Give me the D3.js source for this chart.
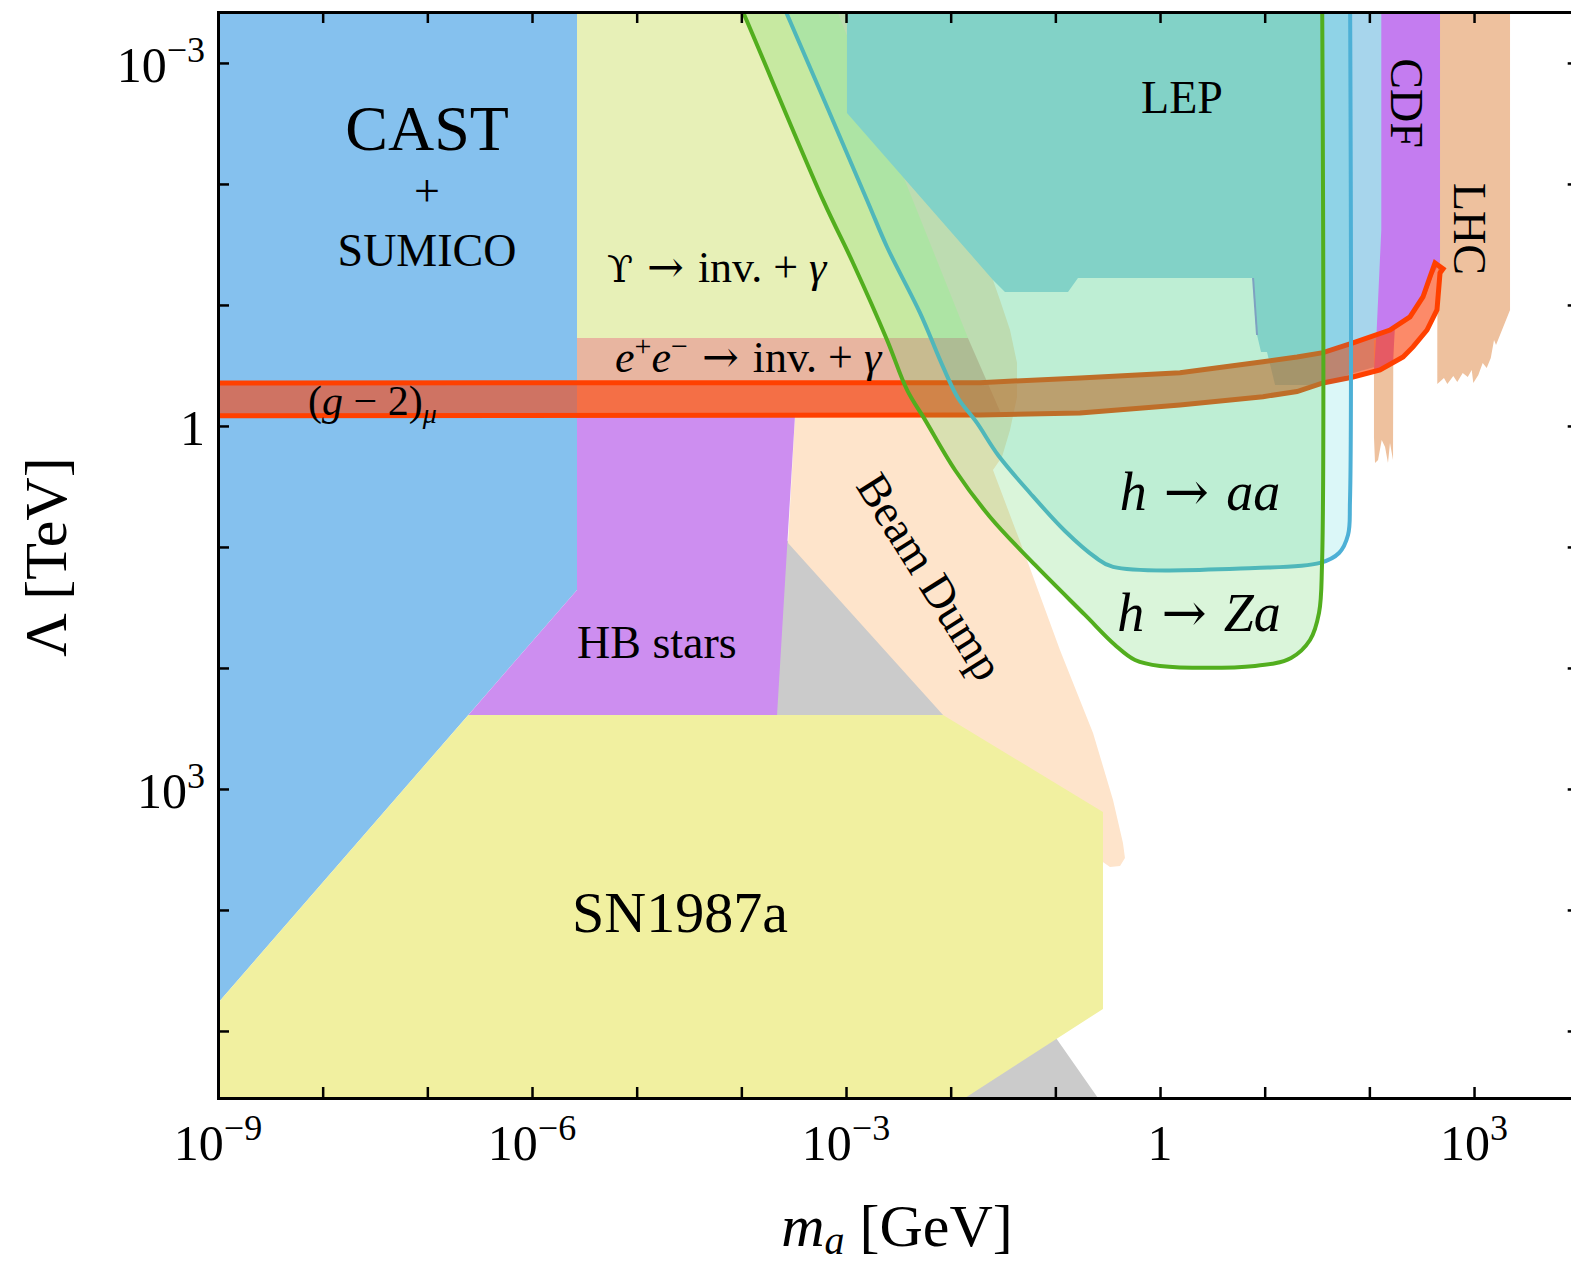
<!DOCTYPE html>
<html>
<head>
<meta charset="utf-8">
<script src="https://cdn.jsdelivr.net/npm/d3@7/dist/d3.min.js"></script>
<style>
html,body{margin:0;padding:0;background:#fff;}
svg{display:block;}
text{font-family:"Liberation Serif","Times New Roman",Times,serif;fill:#000;white-space:pre;}
</style>
</head>
<body>
<svg id="chart" width="1571" height="1266"></svg>
<script>
// ---------- data: points are [log10(m_a / GeV), log10(Lambda / TeV)] ----------
const castSumico = [[-9.3,-3.7],[-5.570,-3.7],[-5.570,1.355],[-9,4.769],[-9.3,4.769]];
const upsilonInv = [[-5.570,-3.7],[-3.21,-3.7],[-1.835,-0.727],[-5.570,-0.727]];
const eeInv = [[-5.570,-0.727],[-1.835,-0.727],[-1.513,-0.09],[-5.570,-0.09]];
const hbStars = [[-5.570,-0.09],[-3.487,-0.09],[-3.659,2.388],[-6.608,2.388],[-5.570,1.355]];
const sn1987a = [[-6.608,2.388],[-2.073,2.388],[-0.545,3.190],[-0.545,4.818],[-2.125,5.7],[-9.3,5.7],[-9.3,4.769],[-9,4.769]];
const grayRegion = [[-3.58,0.93],[-2.007,2.388],[-1.147,4.868],[-0.593,5.554],[-0.5,5.7],[-3.82,5.7],[-3.82,2.26]];
const beamDump = [[-3.296,-3.7],[-2.484,-3.7],[-1.672,-1.455],[-1.596,-1.207],[-1.529,-1.041],[-1.433,-0.793],
  [-1.366,-0.521],[-1.366,-0.240],[-1.433,0.033],[-1.510,0.256],[-1.596,0.364],[-1.271,1.107],[-0.956,1.851],
  [-0.640,2.537],[-0.449,3.091],[-0.354,3.446],[-0.335,3.570],[-0.382,3.636],[-0.478,3.645],[-0.573,3.587],
  [-0.621,3.752],[-2.198,2.760],[-2.073,2.388],[-3.554,0.967],[-3.487,-0.09],[-3.392,-1.041]];
const lep = [[-2.991,-3.7],[-2.991,-2.587],[-1.596,-1.207],[-1.481,-1.107],[-0.879,-1.107],[-0.784,-1.223],
  [0.889,-1.223],[0.927,-0.752],[0.965,-0.612],[1.022,-0.612],[1.099,-0.339],[1.548,-0.339],[1.815,-0.43],
  [2.083,-0.496],[2.140,-0.711],[2.140,-3.7]];
const lepEdge = [[0.889,-1.223],[0.927,-0.752]];
const lhcMain = [[2.656,-3.7],[3.344,-3.7],[3.344,-0.959],[3.210,-0.669],[3.191,-0.711],[3.160,-0.562],
  [3.121,-0.479],[3.083,-0.521],[3.041,-0.421],[2.993,-0.355],[2.978,-0.463],[2.940,-0.405],[2.892,-0.438],
  [2.840,-0.364],[2.802,-0.413],[2.745,-0.347],[2.713,-0.397],[2.649,-0.347],[2.649,-0.793],[2.656,-1.355]];
const lhcStrip = [[2.044,-0.711],[2.229,-0.711],[2.226,0.281],[2.197,0.140],[2.178,0.306],[2.150,0.174],
  [2.118,0.116],[2.083,0.281],[2.054,0.306],[2.044,0.091]];
const cdf = [[2.114,-3.7],[2.675,-3.7],[2.675,-1.355],[2.608,-1.248],[2.541,-1.083],[2.407,-0.926],
  [2.245,-0.826],[2.226,-0.529],[2.044,-0.455],[2.070,-0.793],[2.114,-1.620]];
const gm2Upper = [[-9.3,-0.355],[-1.720,-0.358],[-0.765,-0.397],[0.191,-0.440],[0.984,-0.531],[1.309,-0.570],
  [1.557,-0.606],[1.844,-0.686],[2.197,-0.793],[2.388,-0.901],[2.512,-1.066],[2.579,-1.231],[2.627,-1.347]];
const gm2Lower = [[-9.3,-0.083],[-1.720,-0.091],[-0.765,-0.107],[0.191,-0.174],[0.984,-0.242],[1.309,-0.284],
  [1.557,-0.355],[1.844,-0.405],[2.102,-0.463],[2.322,-0.570],[2.417,-0.653],[2.551,-0.793],[2.646,-0.959],
  [2.675,-1.264],[2.704,-1.298]];
const hToZa = [[-4.128,-3.7],[-3.984,-3.421],[-3.220,-1.868],[-2.933,-1.347],[-2.608,-0.711],[-2.417,-0.298],
  [-2.245,-0.050],[-1.959,0.364],[-1.624,0.752],[-1.194,1.149],[-0.717,1.562],[-0.430,1.810],[-0.239,1.934],
  [0,1.983],[0.908,1.983],[1.252,1.917],[1.433,1.769],[1.519,1.545],[1.548,1.132],[1.548,-3.7]];
const hToAa = [[-3.717,-3.7],[-3.573,-3.421],[-2.800,-1.868],[-2.608,-1.479],[-2.293,-0.934],[-2.073,-0.488],
  [-1.930,-0.231],[-1.749,-0.025],[-1.548,0.240],[-1.242,0.554],[-0.908,0.868],[-0.621,1.083],[-0.449,1.165],
  [0.908,1.174],[1.529,1.132],[1.710,1.050],[1.796,0.901],[1.815,0.612],[1.815,-3.7]];
const xTickExps = [-9,-8,-7,-6,-5,-4,-3,-2,-1,0,1,2,3,4];
const yTickExps = [-3,-2,-1,0,1,2,3,4,5];
const xLabelExps = [-9,-6,-3,0,3];
const yLabelExps = [-3,0,3];

// ---------- scales ----------
const svg = d3.select("#chart");
const x = d3.scaleLog().domain([1e-9, 1e4]).range([218, 1578.7]);
const y = d3.scaleLog().domain([Math.pow(10,-3.421), Math.pow(10,5.554)]).range([12, 1098]);
const px = d => x(Math.pow(10, d[0]));
const py = d => y(Math.pow(10, d[1]));
const poly = d3.line().x(px).y(py);
const smooth = d3.line().x(px).y(py).curve(d3.curveCatmullRom.alpha(0.5));

svg.append("defs").append("clipPath").attr("id","plotClip").append("rect")
  .attr("x",218).attr("y",12).attr("width",1578.7-218).attr("height",1086);
const g = svg.append("g").attr("clip-path","url(#plotClip)");

function region(pts, fill) {
  return g.append("path").attr("d", poly(pts) + "Z").attr("fill", fill).attr("stroke","none");
}

region(grayRegion, "#cbcbcb");
region(beamDump, "#fee4cb");
region(castSumico, "#85c1ee");
region(upsilonInv, "#e7f0b7");
region(eeInv, "#e8b5a0");
region(hbStars, "#cd8ef0");
region(sn1987a, "#f1f0a0");
region(lep, "#a7d5ec");
g.append("path").attr("d", poly(lepEdge)).attr("fill","none").attr("stroke","#a08ce2").attr("stroke-width",2);
region(lhcMain, "#eec19e");
region(lhcStrip, "#eec19e");
region(cdf, "#c47cf0");

// (g-2)_mu band
const band = gm2Upper.concat(gm2Lower.slice().reverse());
g.append("path").attr("d", poly(band) + "Z")
  .attr("fill", "rgb(251,70,18)").attr("fill-opacity", 0.63)
  .attr("stroke", "#ff4000").attr("stroke-width", 5).attr("stroke-linejoin","miter");

// h -> aa and h -> Za regions
g.append("path").attr("d", smooth(hToAa) + "Z")
  .attr("fill","rgb(0,197,204)").attr("fill-opacity",0.14)
  .attr("stroke","#4db0d6").attr("stroke-width",4);
g.append("path").attr("d", smooth(hToZa) + "Z")
  .attr("fill","rgb(86,209,86)").attr("fill-opacity",0.22)
  .attr("stroke","#52ae1e").attr("stroke-width",4);

// ---------- axes / frame ----------
const xt = xTickExps.map(e => Math.pow(10,e));
const yt = yTickExps.map(e => Math.pow(10,e));
function styleAxis(sel) {
  sel.select(".domain").attr("stroke","#000").attr("stroke-width",3).attr("stroke-linecap","square");
  sel.selectAll(".tick line").attr("stroke","#000").attr("stroke-width",2.5);
  sel.selectAll(".tick text").remove();
}
const noLab = () => "";
svg.append("g").attr("transform","translate(0,1098)")
  .call(d3.axisBottom(x).tickValues(xt).tickSize(-11).tickSizeOuter(0).tickFormat(noLab)).call(styleAxis);
svg.append("g").attr("transform","translate(0,12)")
  .call(d3.axisTop(x).tickValues(xt).tickSize(-11).tickSizeOuter(0).tickFormat(noLab)).call(styleAxis);
svg.append("g").attr("transform","translate(218,0)")
  .call(d3.axisLeft(y).tickValues(yt).tickSize(-11).tickSizeOuter(0).tickFormat(noLab)).call(styleAxis);
svg.append("g").attr("transform","translate(1578.7,0)")
  .call(d3.axisRight(y).tickValues(yt).tickSize(-11).tickSizeOuter(0).tickFormat(noLab)).call(styleAxis);

function powLabel(t, e) {
  if (e === 0) { t.text("1"); return; }
  t.append("tspan").text("10");
  t.append("tspan").attr("font-size",36).attr("dy",-20).text(e < 0 ? "\u2212" + (-e) : String(e));
}
xLabelExps.forEach(e => {
  const t = svg.append("text").attr("x", x(Math.pow(10,e))).attr("y",1160)
    .attr("text-anchor","middle").attr("font-size",50);
  powLabel(t, e);
});
yLabelExps.forEach(e => {
  const t = svg.append("text").attr("x", 205).attr("y", y(Math.pow(10,e)) + 19)
    .attr("text-anchor","end").attr("font-size",50);
  powLabel(t, e);
});

// axis titles
const xt1 = svg.append("text").attr("x",897).attr("y",1246).attr("text-anchor","middle").attr("font-size",60);
xt1.append("tspan").attr("font-style","italic").text("m");
xt1.append("tspan").attr("font-style","italic").attr("font-size",40).attr("dy",8).text("a");
xt1.append("tspan").attr("dy",-8).text(" [GeV]");
svg.append("text").attr("transform","translate(66,557) rotate(-90)").attr("text-anchor","middle")
  .attr("font-size",60).text("\u039B [TeV]");

// ---------- region labels (anchored in data coordinates) ----------
const ARROW = {t:" \u2192 ", f:"'DejaVu Serif',serif"};
function lab(lx, ly, parts, opts) {
  opts = opts || {};
  const X = x(Math.pow(10,lx)), Y = y(Math.pow(10,ly));
  const t = svg.append("text").attr("font-size", opts.size || 46)
    .attr("text-anchor", opts.anchor || "middle");
  if (opts.rot !== undefined) {
    t.attr("transform", `translate(${X},${Y}) rotate(${opts.rot})`).attr("x",0).attr("y", opts.dy || 0);
  } else {
    t.attr("x", X).attr("y", Y);
  }
  parts.forEach(p => {
    const s = t.append("tspan").text(p.t);
    if (p.i) s.attr("font-style","italic");
    if (p.s) s.attr("font-size", p.s);
    if (p.dy) s.attr("dy", p.dy);
    if (p.f) s.attr("font-family", p.f);
  });
  return t;
}
lab(-7.003,-2.281,[{t:"CAST"}],{size:64});
lab(-7.003,-1.818,[{t:"+"}],{size:46});
lab(-7.003,-1.322,[{t:"SUMICO"}],{size:46});
lab(-5.284,-1.190,[{t:"\u03D2",f:"'DejaVu Serif','Liberation Serif',serif",s:38},ARROW,{t:"inv. + "},{t:"\u03B3",i:1}],{size:44,anchor:"start"});
lab(-5.207,-0.446,[{t:"e",i:1},{t:"+",s:30,dy:-16},{t:"e",i:1,dy:16},{t:"\u2212",s:30,dy:-16},
  {t:" \u2192 ",f:"'DejaVu Serif',serif",dy:16},{t:"inv. + "},{t:"\u03B3",i:1}],{size:44,anchor:"start"});
lab(-8.140,-0.091,[{t:"("},{t:"g",i:1},{t:" \u2212 2)"},{t:"\u03BC",i:1,s:28,dy:8}],{size:42,anchor:"start"});
lab(0.210,-2.587,[{t:"LEP"}],{size:46});
lab(2.207,-2.669,[{t:"CDF"}],{size:46,rot:90});
lab(2.809,-1.628,[{t:"LHC"}],{size:46,rot:90});
lab(-2.217,1.256,[{t:"Beam Dump"}],{size:46,rot:58,dy:13});
lab(-5.570,1.917,[{t:"HB stars"}],{size:46,anchor:"start"});
lab(-4.586,4.182,[{t:"SN1987a"}],{size:58});
lab(0.382,0.694,[{t:"h",i:1},ARROW,{t:"aa",i:1}],{size:54});
lab(0.373,1.694,[{t:"h",i:1},ARROW,{t:"Za",i:1}],{size:54});
</script>
</body>
</html>
